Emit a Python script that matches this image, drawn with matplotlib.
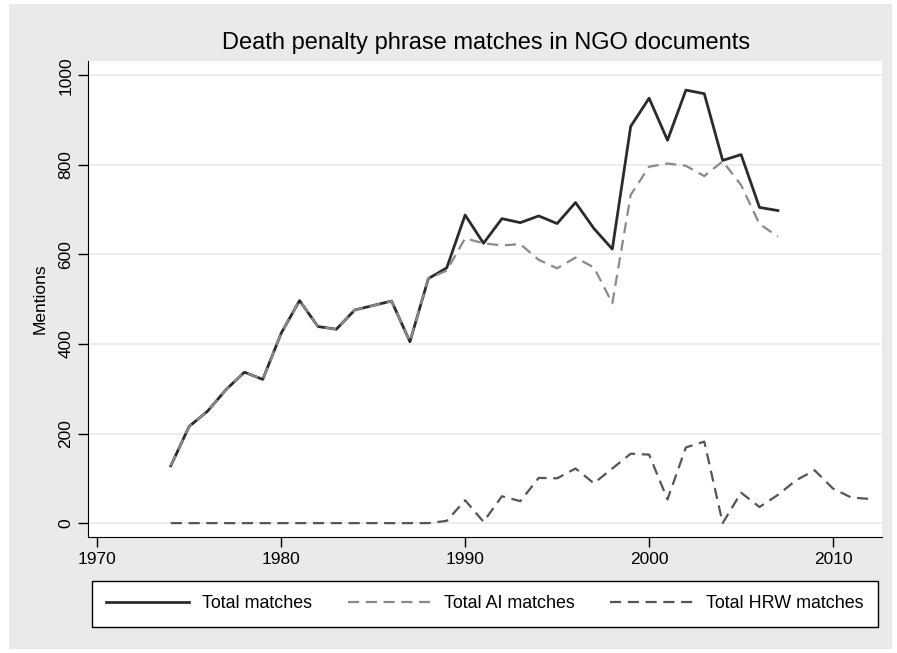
import numpy as np
from matplotlib import pyplot as plt
from matplotlib.patches import Rectangle

plt.rcParams['font.family'] = ['Liberation Sans', 'DejaVu Sans']

years = list(range(1974, 2008))
total = [128, 216, 250, 298, 337, 321, 424, 497, 439, 433, 476, 486, 496, 405, 546,
         570, 688, 625, 680, 671, 686, 669, 716, 658, 612, 886, 949, 855, 967, 959,
         810, 823, 705, 698]
ai = [128, 216, 250, 298, 337, 321, 424, 497, 439, 433, 476, 486, 496, 405, 546,
      564, 636, 625, 620, 623, 588, 569, 593, 571, 491, 733, 796, 803, 798, 775,
      808, 755, 668, 640]

hrw_years = list(range(1974, 2013))
hrw = [0, 0, 0, 0, 0, 0, 0, 0, 0, 0, 0, 0, 0, 0, 0,
       5, 51, 3, 60, 49, 101, 100, 122, 89, 122, 155, 153, 53, 169, 182,
       0, 68, 36, 63, 96, 118, 77, 57, 54]

fig = plt.figure(figsize=(8.97, 6.53), dpi=100)
fig.patch.set_facecolor('white')
# grey outer panel
fig.patches.append(Rectangle((9 / 897, 1 - 649 / 653), 883 / 897, 645 / 653,
                             transform=fig.transFigure, facecolor='#eaeaea',
                             edgecolor='none', zorder=-5))

ax = fig.add_axes([88 / 897, 1 - 537 / 653, 794 / 897, 476 / 653])
ax.set_zorder(2)
ax.set_facecolor('white')

ax.plot(years, total, color='#2b2b2b', lw=2.0, label='Total matches', zorder=3)
ax.plot(years, ai, color='#8a8a8a', lw=1.6, ls=(0, (5, 3)), label='Total AI matches', zorder=4)
ax.plot(hrw_years, hrw, color='#555555', lw=1.6, ls=(0, (5, 3)), label='Total HRW matches', zorder=4)

ax.set_xlim(1969.5, 2012.66)
ax.set_ylim(-31, 1032)
ax.set_xticks([1970, 1980, 1990, 2000, 2010])
ax.set_yticks([0, 200, 400, 600, 800, 1000])
ax.grid(axis='y', color='#eaeaea', lw=1.2)
ax.set_axisbelow(True)
for s in ['top', 'right']:
    ax.spines[s].set_visible(False)
ax.spines['left'].set_color('black')
ax.spines['bottom'].set_color('black')
ax.tick_params(direction='out', length=7, width=1, labelsize=12.5, colors='black')
plt.setp(ax.get_yticklabels(), rotation=90, va='center')
ax.set_ylabel('Mentions', fontsize=12.5, labelpad=8)

fig.text(486 / 897, 1 - 43 / 653, 'Death penalty phrase matches in NGO documents',
         ha='center', va='center', fontsize=17)

leg = fig.legend(loc='center', bbox_to_anchor=(485 / 897, 1 - 604 / 653), ncol=3,
                 fontsize=12.9, frameon=True, fancybox=False, edgecolor='black',
                 handlelength=4.6, columnspacing=2.0, borderpad=0.8, handletextpad=0.75)
leg.get_frame().set_linewidth(1.0)
leg.get_frame().set_facecolor('white')
leg.get_frame().set_alpha(1)

fig.savefig('out.png', dpi=100)
